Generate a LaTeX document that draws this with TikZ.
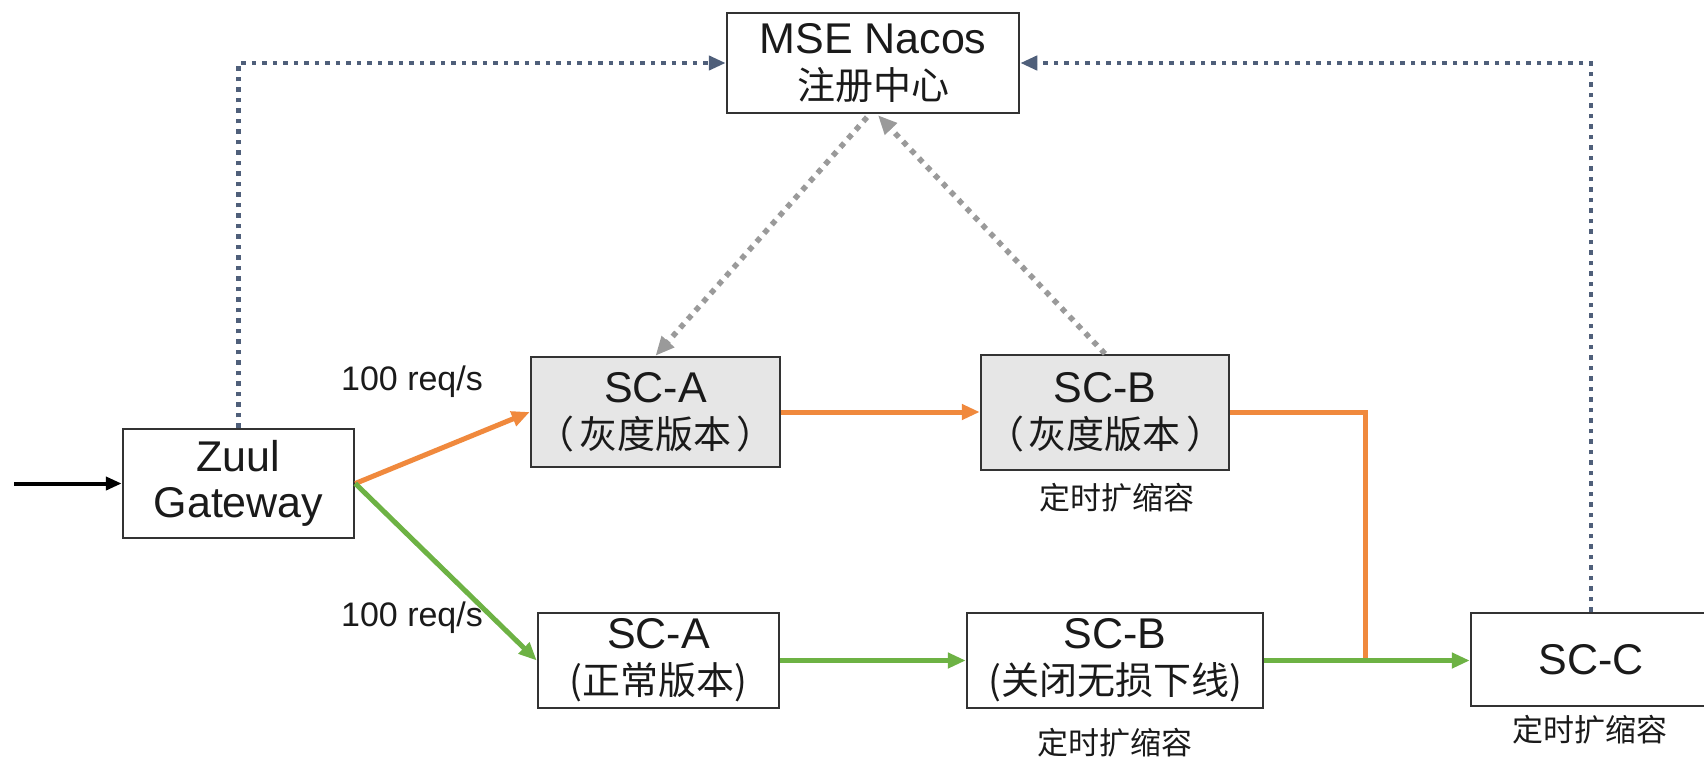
\documentclass[tikz,border=0pt]{standalone}
\usepackage{fontspec}
\setmainfont{Liberation Sans}
\newfontfamily\cjkfont{Noto Sans CJK SC}
\usetikzlibrary{arrows.meta,calc}
\definecolor{orangeline}{HTML}{F0893D}
\definecolor{greenline}{HTML}{6DB244}
\definecolor{bluedotcol}{HTML}{4F5F7A}
\definecolor{graydotcol}{HTML}{9A9A9A}
\definecolor{boxborder}{HTML}{333333}
\definecolor{grayfill}{HTML}{E6E6E6}
\definecolor{textcol}{HTML}{1A1A1A}
\newcommand\zhtxt[1]{{\cjkfont\fontsize{38}{46}\selectfont #1}}
\begin{document}
\begin{tikzpicture}[x=1pt,y=-1pt,
  box/.style={draw=boxborder, line width=2.5pt, inner sep=0pt, align=center,
    text=textcol, font=\fontsize{43}{46}\selectfont},
  graybox/.style={box, fill=grayfill},
  lab/.style={inner sep=0pt, text=textcol, font=\fontsize{34}{38}\selectfont},
  zhlab/.style={inner sep=0pt, text=textcol, font=\cjkfont\fontsize{31}{35}\selectfont},
  orangearrow/.style={draw=orangeline, line width=5pt},
  greenarrow/.style={draw=greenline, line width=5pt},
  tipA/.style={-{Triangle[length=18pt,width=15pt]}},
  bluedot/.style={draw=bluedotcol, line width=4.5pt, dash pattern=on 4.5pt off 6pt,
    -{Triangle[length=17pt,width=14pt,fill=bluedotcol]}},
  graydot/.style={draw=graydotcol, line width=5.5pt, dash pattern=on 5.5pt off 6pt,
    -{Triangle[length=19pt,width=16pt,fill=graydotcol]}},
]
\clip (0,0) rectangle (1704,761);
\fill[white] (0,0) rectangle (1704,761);

% nodes
\node[box, minimum width=292pt, minimum height=100pt] (nacos) at (873,63)
  {MSE Nacos\\\zhtxt{注册中心}};
\node[box, minimum width=231pt, minimum height=109pt] (zuul) at (238.5,483.5)
  {Zuul\\Gateway};
\node[graybox, minimum width=249pt, minimum height=110pt] (scag) at (655.5,412)
  {SC-A\\\zhtxt{（\hspace{5pt}灰度版本\hspace{5pt}）}};
\node[graybox, minimum width=248pt, minimum height=115pt] (scbg) at (1105,412.5)
  {SC-B\\\zhtxt{（\hspace{5pt}灰度版本\hspace{5pt}）}};
\node[box, minimum width=241pt, minimum height=95pt] (scan) at (658.5,660.5)
  {SC-A\\\zhtxt{(正常版本)}};
\node[box, minimum width=296pt, minimum height=95pt] (scbn) at (1115,660.5)
  {SC-B\\\zhtxt{(关闭无损下线)}};
\node[box, minimum width=240pt, minimum height=93pt] (scc) at (1591,659.5)
  {SC-C};

% labels
\node[lab] (rate1) at (412,382) {100 req/s};
\node[lab] (rate2) at (412,618) {100 req/s};
\node[zhlab] (scale1) at (1117,498) {定时扩缩容};
\node[zhlab] (scale2) at (1115,743) {定时扩缩容};
\node[zhlab] (scale3) at (1590,730) {定时扩缩容};

% coordinates
\coordinate (in) at (14,483.5);
\coordinate (join) at (1365,660.5);

% incoming
\draw[line width=4pt, draw=black, -{Triangle[length=16pt,width=13pt]}] (in) -- (zuul.west);

% orange path
\draw[orangearrow, tipA] (zuul.east) -- (scag.west);
\draw[orangearrow, tipA] (scag.east) -- (scag.east -| scbg.west);
\draw[orangearrow] (scbg.east) -| (join);

% green path
\draw[greenarrow, tipA] (zuul.east) -- (scan.west);
\draw[greenarrow, tipA] (scan.east) -- (scan.east -| scbn.west);
\draw[greenarrow, tipA] (scbn.east) -- (scbn.east -| scc.west);

% registry dotted lines
\draw[bluedot] (zuul.north) |- (nacos.west);
\draw[bluedot] (scc.north) |- (nacos.east);
\draw[graydot] ($(nacos.south)+(-6,3)$) -- (scag.north);
\draw[graydot] (scbg.north) -- ($(nacos.south)+(5,1)$);
\end{tikzpicture}
\end{document}
